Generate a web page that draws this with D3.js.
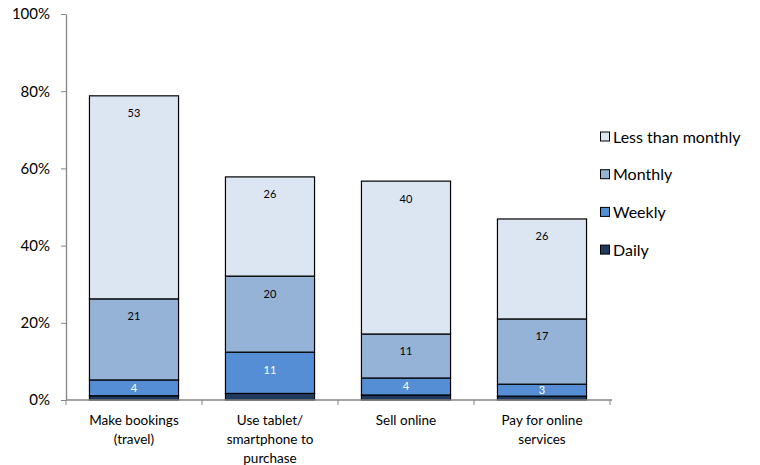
<!DOCTYPE html>
<html><head><meta charset="utf-8">
<script src="https://cdn.jsdelivr.net/npm/d3@7"></script>
<style>body{margin:0;background:#fff;}svg{display:block;font-family:Lato,"Open Sans",sans-serif;}</style>
</head><body><svg id="c" width="760" height="465"></svg>
<script>
const categories = [["Make bookings","(travel)"],["Use tablet/","smartphone to","purchase"],["Sell online"],["Pay for online","services"]];
const seriesNames = ["Daily","Weekly","Monthly","Less than monthly"];
const daily = [1.1, 1.7, 1.3, 1.0];
const weekly = [4.1, 10.7, 4.4, 3.1];
const monthly = [21.0, 19.7, 11.4, 16.9];
const lessThanMonthly = [52.6, 25.7, 39.6, 25.9];
const yTicks = [0, 20, 40, 60, 80, 100];
const colors = ["#1f3a5f", "#558ed5", "#95b3d7", "#dce6f2"];
const labelColors = [null, "#fff", "#000", "#000"];

const svg = d3.select("#c");
const x = d3.scaleBand().domain(d3.range(categories.length)).range([66, 610]).paddingInner(0.345).paddingOuter(0.1725);
const y = d3.scaleLinear().domain([0,100]).range([400, 14]);

const rows = categories.map((c,i)=>({i, Daily:daily[i], Weekly:weekly[i], Monthly:monthly[i], "Less than monthly":lessThanMonthly[i]}));
const stack = d3.stack().keys(seriesNames)(rows);

const g = svg.append("g");
stack.forEach((s,k)=>{
  g.selectAll(null).data(s).enter().append("rect")
    .attr("x", d=>x(d.data.i)).attr("width", x.bandwidth())
    .attr("y", d=>y(d[1])).attr("height", d=>y(d[0])-y(d[1]))
    .attr("fill", colors[k]).attr("stroke","#000").attr("stroke-width",1.2);
  if (labelColors[k]) {
    g.selectAll(null).data(s).enter().append("text")
      .attr("x", d=>x(d.data.i)+x.bandwidth()/2)
      .attr("y", d=>Math.min(y(d[1])+17.5, (y(d[0])+y(d[1]))/2)+4)
      .attr("text-anchor","middle").attr("font-size",11).attr("fill",labelColors[k])
      .text(d=>d3.format(".0f")(d[1]-d[0]));
  }
});

// y axis
const ya = svg.append("g").attr("transform","translate(66,0)")
  .call(d3.axisLeft(y).tickValues(yTicks).tickFormat(d=>d+"%").tickSize(5).tickSizeOuter(0));
ya.select(".domain").attr("stroke","#868686").attr("stroke-width",1.3);
ya.selectAll(".tick line").attr("stroke","#868686");
ya.selectAll(".tick text").attr("font-size",15).attr("fill","#000").attr("x",-16).style("font-family","Lato,'Open Sans',sans-serif");

// x axis
svg.append("line").attr("x1",66).attr("x2",612).attr("y1",400).attr("y2",400).attr("stroke","#868686").attr("stroke-width",1.3);
const bounds = d3.range(categories.length+1).map(i=> i<categories.length ? x(i)-x.step()*x.paddingInner()/2 : x(i-1)+x.bandwidth()+x.step()*x.paddingInner()/2);
svg.selectAll(null).data(bounds).enter().append("line")
  .attr("x1",d=>d).attr("x2",d=>d).attr("y1",400).attr("y2",405).attr("stroke","#868686");
categories.forEach((lines,i)=>{
  const t = svg.append("text").attr("text-anchor","middle").attr("font-size",13.5).attr("fill","#000");
  lines.forEach((ln,j)=>t.append("tspan").attr("x",x(i)+x.bandwidth()/2).attr("y",425+j*19).text(ln));
});

// legend
const legendOrder = [3,2,1,0];
legendOrder.forEach((k,j)=>{
  const cy = 137 + j*37.7;
  svg.append("rect").attr("x",600.5).attr("y",cy-5).attr("width",9).attr("height",9)
    .attr("fill",colors[k]).attr("stroke","#000").attr("stroke-width",1);
  svg.append("text").attr("x",613).attr("y",cy+5.5).attr("font-size",16).attr("fill","#000").text(seriesNames[k]);
});
</script></body></html>
